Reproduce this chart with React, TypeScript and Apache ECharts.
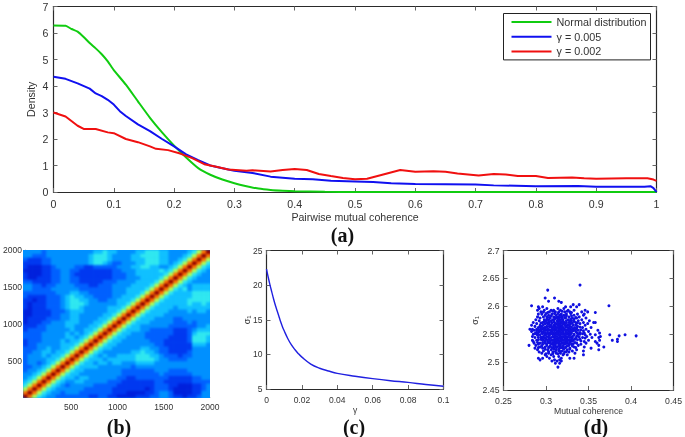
import React, { useEffect, useRef } from "react";
import * as echarts from "echarts";

const normalX = [0,0.02,0.03,0.04,0.05,0.06,0.07,0.08,0.09,0.1,0.12,0.14,0.16,0.18,0.2,0.22,0.24,0.26,0.28,0.3,0.32,0.34,0.36,0.38,0.4,0.45,0.5,1];
const normalY = [6.28,6.27,6.15,6.05,5.85,5.62,5.42,5.2,4.93,4.6,4.05,3.42,2.8,2.25,1.75,1.3,0.9,0.65,0.47,0.33,0.22,0.13,0.08,0.05,0.03,0.01,0,0];
const g005X = [0,0.02,0.04,0.06,0.07,0.08,0.09,0.1,0.11,0.12,0.14,0.16,0.18,0.2,0.22,0.24,0.26,0.28,0.3,0.33,0.36,0.4,0.43,0.46,0.5,0.53,0.56,0.6,0.65,0.7,0.73,0.8,0.87,0.9,0.98,0.99,0.995,1];
const g005Y = [4.35,4.27,4.1,3.9,3.72,3.62,3.48,3.3,3.05,2.87,2.55,2.3,2,1.72,1.42,1.2,1,0.9,0.8,0.72,0.58,0.5,0.48,0.42,0.4,0.38,0.33,0.3,0.29,0.28,0.25,0.22,0.23,0.2,0.2,0.22,0.15,0];
const g002X = [0,0.02,0.04,0.05,0.07,0.09,0.1,0.12,0.14,0.16,0.17,0.19,0.21,0.23,0.25,0.27,0.29,0.32,0.33,0.36,0.38,0.4,0.42,0.44,0.46,0.48,0.5,0.52,0.55,0.575,0.6,0.63,0.65,0.67,0.705,0.73,0.75,0.77,0.8,0.82,0.86,0.88,0.9,0.95,0.985,0.995,1];
const g002Y = [3,2.85,2.5,2.38,2.38,2.25,2.22,2,1.88,1.72,1.63,1.58,1.45,1.28,1.05,0.95,0.85,0.8,0.82,0.77,0.83,0.87,0.83,0.68,0.6,0.53,0.48,0.5,0.68,0.83,0.76,0.78,0.76,0.7,0.62,0.68,0.66,0.6,0.6,0.53,0.55,0.52,0.5,0.52,0.52,0.47,0.42];

const sigmaGamma = [0,0.001,0.002,0.003,0.004,0.005,0.006,0.007,0.008,0.009,0.01,0.012,0.014,0.016,0.018,0.02,0.025,0.03,0.035,0.04,0.05,0.06,0.07,0.08,0.09,0.1];
const sigmaValue = [22.3,21.1,20,19,18,17.1,16.3,15.5,14.7,14,13.4,12.3,11.4,10.7,10.1,9.6,8.6,8,7.6,7.25,6.85,6.5,6.2,5.95,5.65,5.4];

// Level of each cell by distance from the diagonal, then the off-diagonal levels, row by row from the bottom.
const bandLevels = [11, 9, 7, 5, 4];
const heatRows = [
  "3","33","233","2233","23323","233334","2333434","22334434","222334334","1223333344","12223333434",
  "222233333443","2222333334343","12222333334334","111223333443334","0111223334443334","01111222334433334",
  "001111223344333334","0011112223444333334","10111222345543333344","101112223455543333334",
  "1101122234554433223344","21111222345443322223344","222222233344332222233344","3322223333332222222333444",
  "33221223333222112223333444","221111223322111112223333444","1001112233221111111222333444",
  "10001122332111111112223344444","000011223322111111122333444445","1000112333322112222233344554433",
  "11112233333333455432233344555443","211122333333334555433334445554433","3322233333333345554333344555544333",
  "33332333333333344544333344555443333",
];
const heatColors = ["#0020dc","#0038f0","#0060ff","#0090ff","#10c0ff","#30e8f0","#50ffc0","#b0ff50","#ffe000","#ff7000","#e01000","#900000"];

// Panel (d): sigma offset (thousandths above 2) with the coherence values (thousandths) read along that height.
const scatterRows: [number, number[]][] = [
  [638,[340]],[629,[302]],[615,[299,310]],[609,[303,315]],[607,[318]],[603,[332,339]],[601,[283,374]],
  [599,[291,296,323,329,336]],[596,[292,301,314,321]],[593,[290,298,306,309,317,326,333,346]],
  [590,[294,297,304,311,315,322,328,342,349]],[589,[358,302,330]],[586,[291,295,307,318,324,337,345]],
  [584,[299,303,312,316,321,333,344]],[581,[290,297,301,309,314,319,327,339]],
  [579,[293,305,311,323,331,336,347]],[576,[288,298,303,308,317,320,326,342]],
  [574,[292,300,306,313,315,324,330,338,351]],[571,[285,296,304,310,318,322,327,335,344,356,358]],
  [569,[289,299,302,312,316,321,329,340,349]],[566,[283,293,306,309,314,319,325,332,346]],
  [564,[287,295,301,304,311,317,323,328,337]],[562,[291,298,308,313,316,320,326,334,343,353]],
  [559,[281,284,289,294,303,310,315,322,329,347]],[557,[286,300,305,312,318,324,331,338,361]],
  [555,[283,292,297,307,314,316,320,327,335,350]],[552,[288,295,302,309,312,318,323,330,345,363]],
  [550,[285,290,299,304,311,315,321,326,333,340,352]],[549,[293,308,317,328,346,358,375,393]],[547,[386,406]],
  [546,[284,297,301,313,319,324,331,336,348,364]],[544,[287,291,306,310,316,322,328,343,354,362]],
  [541,[294,300,304,312,318,325,334,340,384]],[539,[284,289,297,307,314,320,327,332,350,363,378]],[537,[285,302,310,316,323,329,345,358,384]],
  [534,[286,293,299,305,312,319,325,336,347,360]],[532,[291,296,308,315,321,330,341]],[530,[280,288,301,311,317,327,338,362]],
  [527,[293,299,304,313,323,333,345,368]],[525,[287,296,309,316,320,328,353]],
  [522,[290,302,306,312,325,336,362]],[520,[297,315,319,331,344]],[518,[292,308,322,327]],[516,[295,303,312,317,334]],
  [513,[299,306,320,325,344]],[510,[301,309,315]],[507,[291,296,304,318,328,333]],[504,[293,310,316]],
  [502,[307,313,318]],[498,[316,311]],[491,[314]],
  // denser middle of the cloud
  [591,[308,319,325]],[587,[300,310,314,329]],[583,[306,318,324,330]],[580,[304,312,316,322,335]],[577,[301,310,314,319,329,333]],
  [573,[298,303,309,317,320,328,333]],[570,[294,301,307,314,319,324,331,337]],[567,[297,304,311,316,322,327,335]],
  [563,[293,300,306,309,315,319,324,330,340]],[560,[296,299,302,307,312,318,321,327,332,336]],[558,[292,298,308,316,320,325,334,341]],
  [556,[289,294,302,310,313,317,323,329,332,344]],[553,[291,299,305,307,315,320,325,328,336,340]],
  [551,[287,296,301,306,313,319,324,329,338,343]],[548,[290,299,304,311,315,322,327,333,337]],[545,[294,303,308,311,317,320,326,330,339]],
  [543,[296,299,304,314,319,323,331,335,346]],[540,[291,295,302,309,313,317,322,329,337]],[538,[299,305,312,318,325,331,341]],
  [535,[290,296,303,308,314,321,328,334]],[533,[301,306,310,317,323,327,332]],[529,[295,305,309,315,320,325,331]],
  [526,[291,303,307,312,318,323,335]],[523,[299,309,315,321,328]],[519,[303,311,317,324]],[515,[300,308,314,321]],
];

const legendNames = ["Normal distribution", "γ = 0.005", "γ = 0.002"];
const panelLetters = ["(a)", "(b)", "(c)", "(d)"];

const zip = (a: number[], b: number[]) => a.map((v, i) => [v, b[i]]);
const FONT = "Liberation Sans";
const INK = "#2a2a2a";

function framedAxes(gridIndex: number, x: any, y: any, fontSize: number) {
  const line = { show: true, onZero: false, lineStyle: { color: INK, width: 1.2 } };
  const tick = { show: true, inside: true, length: 4, lineStyle: { color: "#666", width: 1 } };
  const label = { color: "#333", fontSize, fontFamily: FONT };
  const name = { color: "#333", fontFamily: FONT, fontSize };
  const common = { type: "value", gridIndex, axisLine: line, axisTick: tick, splitLine: { show: false } };
  return {
    xAxis: [
      { ...common, ...x, position: "bottom", nameLocation: "middle", nameMoveOverlap: false, nameTextStyle: { ...name, ...(x.nameTextStyle || {}) }, axisLabel: { ...label, margin: x.labelMargin ?? 6 } },
      { ...common, min: x.min, max: x.max, interval: x.interval, position: "top", axisLabel: { show: false } },
    ],
    yAxis: [
      { ...common, ...y, position: "left", nameLocation: "middle", nameMoveOverlap: false, nameTextStyle: { ...name, ...(y.nameTextStyle || {}) }, axisLabel: { ...label, margin: y.labelMargin ?? 4 } },
      { ...common, min: y.min, max: y.max, interval: y.interval, position: "right", axisLabel: { show: false } },
    ],
  };
}

const sigmaName = {
  name: "{s|σ}{n|1}",
  nameRotate: 90,
  nameTextStyle: { rich: { s: { fontSize: 9, fontFamily: FONT, color: "#333" }, n: { fontSize: 6, fontFamily: FONT, color: "#333", verticalAlign: "bottom", padding: [4, 0, 0, 0] } } },
};

const HEAT_PAD = 5;

export default function App() {
  const ref = useRef<HTMLDivElement>(null);
  const heatRef = useRef<HTMLDivElement>(null);
  useEffect(() => {
    const chart = echarts.init(ref.current!, null, { renderer: "svg" });
    const heatChart = echarts.init(heatRef.current!, null, { renderer: "svg" });

    const heatCats = Array.from({ length: 40 }, (_, i) => String(i));
    const heatData: number[][] = [];
    for (let r = 0; r < 40; r++) {
      for (let c = 0; c < 40; c++) {
        const hi = Math.max(r, c);
        const lo = Math.min(r, c);
        const d = hi - lo;
        const level = d < bandLevels.length ? bandLevels[d] : Number(heatRows[hi - 5][lo]);
        heatData.push([c, r, level]);
      }
    }
    const scatterData: number[][] = [];
    scatterRows.forEach(([y, xs]) => xs.forEach((x) => scatterData.push([x / 1000, 2 + y / 1000])));

    const a = framedAxes(0,
      { min: 0, max: 1, interval: 0.1, name: "Pairwise mutual coherence", nameGap: 19, labelMargin: 6 },
      { min: 0, max: 7, interval: 1, name: "Density", nameGap: 17, labelMargin: 5 }, 10.6);
    const c = framedAxes(1,
      { min: 0, max: 0.1, interval: 0.02, name: "γ", nameGap: 16 },
      { min: 5, max: 25, interval: 5, nameGap: 15, ...sigmaName }, 8.5);
    const d = framedAxes(2,
      { min: 0.25, max: 0.45, interval: 0.05, name: "Mutual coherence", nameGap: 16 },
      { min: 2.45, max: 2.7, interval: 0.05, nameGap: 24, ...sigmaName }, 8.7);

    const hideZero = (v: number) => (v === 0 ? "" : String(v));
    const heatFrame = { show: true, onZero: false, lineStyle: { color: "#bbb", width: 1 } };
    const heatLabelStyle = { color: "#333", fontSize: 8.5, fontFamily: FONT, formatter: hideZero };

    const option: any = {
      animation: false,
      backgroundColor: "#fff",
      textStyle: { fontFamily: FONT },
      grid: [
        { left: 53.5, top: 6.5, width: 603, height: 185.5 },
        { left: 266.5, top: 250.5, width: 177, height: 138.5 },
        { left: 503.5, top: 250.5, width: 173, height: 139.5 },
        { left: 22.5, top: 250, width: 187.5, height: 147.5 },
      ],
      xAxis: [
        ...a.xAxis, ...c.xAxis, ...d.xAxis,
        { type: "value", gridIndex: 3, min: 0, max: 2000, interval: 500, axisLine: heatFrame, axisTick: { show: false }, splitLine: { show: false }, axisLabel: { ...heatLabelStyle, margin: 5 } },
      ],
      yAxis: [
        ...a.yAxis, ...c.yAxis, ...d.yAxis,
        { type: "value", gridIndex: 3, min: 0, max: 2000, interval: 500, axisLine: heatFrame, axisTick: { show: false }, splitLine: { show: false }, axisLabel: { ...heatLabelStyle, margin: 3 } },
      ],
      legend: {
        left: 503.5, top: 13.5, orient: "vertical", data: legendNames, icon: "rect",
        itemWidth: 40, itemHeight: 2, itemGap: 3.7, padding: [3, 4, 3, 8],
        backgroundColor: "#fff", borderColor: "#222", borderWidth: 1,
        textStyle: { fontSize: 10.8, color: "#333", fontFamily: FONT },
      },
      series: [
        { type: "line", name: legendNames[0], xAxisIndex: 0, yAxisIndex: 0, data: zip(normalX, normalY), smooth: 0.2, showSymbol: false, lineStyle: { color: "#10cc10", width: 2 }, itemStyle: { color: "#10cc10" } },
        { type: "line", name: legendNames[1], xAxisIndex: 0, yAxisIndex: 0, data: zip(g005X, g005Y), showSymbol: false, lineStyle: { color: "#1010f0", width: 2 }, itemStyle: { color: "#1010f0" } },
        { type: "line", name: legendNames[2], xAxisIndex: 0, yAxisIndex: 0, data: zip(g002X, g002Y), showSymbol: false, lineStyle: { color: "#f01010", width: 2 }, itemStyle: { color: "#f01010" } },
        { type: "line", xAxisIndex: 2, yAxisIndex: 2, data: zip(sigmaGamma, sigmaValue), smooth: 0.4, showSymbol: false, lineStyle: { color: "#2020e0", width: 1.4 } },
        { type: "scatter", xAxisIndex: 4, yAxisIndex: 4, data: scatterData, symbolSize: 3, itemStyle: { color: "#1010e0", opacity: 1 } },
        { type: "line", xAxisIndex: 6, yAxisIndex: 6, data: [] },
      ],
      graphic: [
        [342.5, 235], [119, 427], [354, 427], [596, 427],
      ].map(([x, y], i) => ({
        type: "text", x, y,
        style: { text: panelLetters[i], fontFamily: "Liberation Serif", fontWeight: "bold", fontSize: 20, fill: "#111", align: "center", verticalAlign: "middle" },
      })),
    };
    chart.setOption(option);

    heatChart.setOption({
      animation: false,
      backgroundColor: "#0090ff",
      grid: { left: HEAT_PAD, right: HEAT_PAD, top: HEAT_PAD, bottom: HEAT_PAD },
      xAxis: { type: "category", data: heatCats, show: false },
      yAxis: { type: "category", data: heatCats, show: false },
      visualMap: { show: false, min: 0, max: 11, inRange: { color: heatColors } },
      series: [{ type: "heatmap", data: heatData, itemStyle: { borderWidth: 0 }, progressive: 0 }],
    } as any);

    return () => {
      chart.dispose();
      heatChart.dispose();
    };
  }, []);
  return (
    <div style={{ position: "absolute", left: 0, top: 0, width: 685, height: 437 }}>
      <div ref={ref} style={{ position: "absolute", left: 0, top: 0, width: 685, height: 437, filter: "blur(0.4px)" }} />
      <div style={{ position: "absolute", left: 22.5, top: 250, width: 187.5, height: 147.5, overflow: "hidden" }}>
        <div ref={heatRef} style={{ position: "absolute", left: -HEAT_PAD, top: -HEAT_PAD, width: 187.5 + 2 * HEAT_PAD, height: 147.5 + 2 * HEAT_PAD, filter: "blur(1.3px)" }} />
      </div>
    </div>
  );
}
